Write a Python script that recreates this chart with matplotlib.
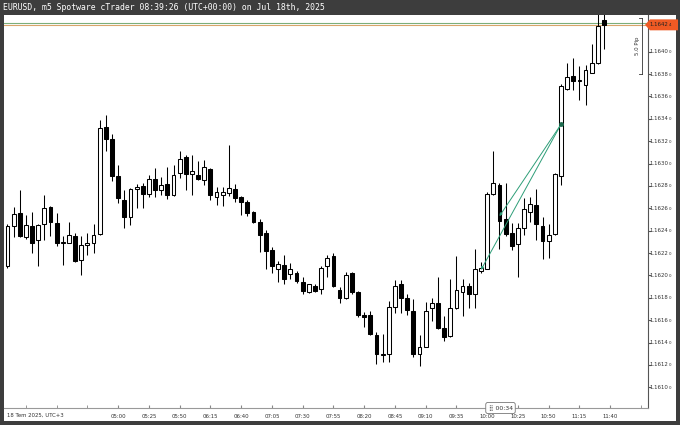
import matplotlib.pyplot as plt
import matplotlib.transforms as mtransforms
from matplotlib.patches import Polygon, Rectangle
import numpy as np

# EURUSD m5 candles, 03:30 .. 11:35 (UTC+3)
opens = [1.16208, 1.16244, 1.16256, 1.16234, 1.16244, 1.16232, 1.16246, 1.16261, 1.16247, 1.16229,
         1.16229, 1.16235, 1.16214, 1.16227, 1.16229, 1.16237, 1.16333, 1.16322, 1.16289, 1.16267,
         1.16252, 1.16277, 1.16280, 1.16273, 1.16286, 1.16276, 1.16282, 1.16272, 1.16292, 1.16306,
         1.16291, 1.16290, 1.16285, 1.16295, 1.16270, 1.16272, 1.16274, 1.16277, 1.16270, 1.16266,
         1.16257, 1.16248, 1.16238, 1.16223, 1.16206, 1.16209, 1.16201, 1.16202, 1.16194, 1.16185,
         1.16191, 1.16188, 1.16208, 1.16217, 1.16187, 1.16180, 1.16202, 1.16185, 1.16165, 1.16165,
         1.16147, 1.16129, 1.16130, 1.16172, 1.16192, 1.16180, 1.16168, 1.16130, 1.16136, 1.16171,
         1.16175, 1.16153, 1.16146, 1.16171, 1.16185, 1.16191, 1.16183, 1.16204, 1.16206, 1.16273,
         1.16281, 1.16250, 1.16238, 1.16228, 1.16242, 1.16257, 1.16263, 1.16244, 1.16231, 1.16237,
         1.16289, 1.16367, 1.16378, 1.16374, 1.16370, 1.16381, 1.16390, 1.16428]
highs = [1.16246, 1.16261, 1.16276, 1.16254, 1.16257, 1.16246, 1.16272, 1.16262, 1.16256, 1.16235,
         1.16248, 1.16238, 1.16235, 1.16238, 1.16246, 1.16339, 1.16343, 1.16326, 1.16299, 1.16276,
         1.16278, 1.16282, 1.16283, 1.16290, 1.16296, 1.16288, 1.16297, 1.16299, 1.16311, 1.16308,
         1.16308, 1.16302, 1.16303, 1.16296, 1.16279, 1.16279, 1.16317, 1.16282, 1.16271, 1.16267,
         1.16258, 1.16250, 1.16241, 1.16225, 1.16213, 1.16218, 1.16211, 1.16204, 1.16199, 1.16192,
         1.16192, 1.16208, 1.16218, 1.16220, 1.16190, 1.16203, 1.16203, 1.16186, 1.16167, 1.16168,
         1.16149, 1.16148, 1.16177, 1.16196, 1.16196, 1.16183, 1.16179, 1.16147, 1.16176, 1.16180,
         1.16199, 1.16164, 1.16197, 1.16217, 1.16197, 1.16193, 1.16224, 1.16212, 1.16275, 1.16311,
         1.16283, 1.16283, 1.16247, 1.16247, 1.16269, 1.16270, 1.16277, 1.16252, 1.16246, 1.16292,
         1.16371, 1.16390, 1.16394, 1.16387, 1.16388, 1.16407, 1.16434, 1.16436]
lows = [1.16207, 1.16234, 1.16234, 1.16233, 1.16220, 1.16208, 1.16232, 1.16235, 1.16226, 1.16209,
        1.16229, 1.16212, 1.16200, 1.16218, 1.16220, 1.16236, 1.16311, 1.16284, 1.16265, 1.16242,
        1.16245, 1.16260, 1.16260, 1.16270, 1.16270, 1.16272, 1.16268, 1.16271, 1.16287, 1.16276,
        1.16272, 1.16285, 1.16281, 1.16267, 1.16263, 1.16262, 1.16271, 1.16266, 1.16254, 1.16253,
        1.16247, 1.16221, 1.16206, 1.16202, 1.16194, 1.16192, 1.16197, 1.16193, 1.16183, 1.16184,
        1.16185, 1.16183, 1.16199, 1.16190, 1.16175, 1.16179, 1.16183, 1.16163, 1.16154, 1.16147,
        1.16121, 1.16123, 1.16123, 1.16166, 1.16166, 1.16165, 1.16127, 1.16119, 1.16136, 1.16159,
        1.16152, 1.16141, 1.16145, 1.16170, 1.16164, 1.16171, 1.16171, 1.16202, 1.16206, 1.16272,
        1.16224, 1.16235, 1.16223, 1.16199, 1.16236, 1.16248, 1.16232, 1.16215, 1.16216, 1.16236,
        1.16281, 1.16366, 1.16366, 1.16357, 1.16352, 1.16381, 1.16389, 1.16402]
closes = [1.16244, 1.16255, 1.16235, 1.16245, 1.16229, 1.16245, 1.16260, 1.16248, 1.16229, 1.16230,
          1.16236, 1.16213, 1.16227, 1.16229, 1.16236, 1.16332, 1.16322, 1.16289, 1.16269, 1.16252,
          1.16277, 1.16279, 1.16273, 1.16286, 1.16276, 1.16281, 1.16272, 1.16290, 1.16304, 1.16291,
          1.16293, 1.16286, 1.16297, 1.16272, 1.16275, 1.16275, 1.16278, 1.16269, 1.16266, 1.16256,
          1.16248, 1.16236, 1.16222, 1.16208, 1.16210, 1.16197, 1.16206, 1.16195, 1.16186, 1.16192,
          1.16186, 1.16207, 1.16216, 1.16191, 1.16180, 1.16200, 1.16185, 1.16165, 1.16163, 1.16148,
          1.16130, 1.16130, 1.16172, 1.16191, 1.16180, 1.16169, 1.16130, 1.16136, 1.16168, 1.16175,
          1.16153, 1.16145, 1.16171, 1.16187, 1.16191, 1.16183, 1.16206, 1.16207, 1.16273, 1.16283,
          1.16249, 1.16237, 1.16226, 1.16242, 1.16259, 1.16264, 1.16246, 1.16231, 1.16236, 1.16291,
          1.16369, 1.16377, 1.16374, 1.16375, 1.16384, 1.16390, 1.16423, 1.16424]

time_ticks = ["05:00", "05:25", "05:50", "06:15", "06:40", "07:05", "07:30", "07:55", "08:20",
              "08:45", "09:10", "09:35", "10:00", "10:25", "10:50", "11:15", "11:40"]
price_ticks = [1.16100, 1.16120, 1.16140, 1.16160, 1.16180, 1.16200, 1.16220, 1.16240, 1.16260,
               1.16280, 1.16300, 1.16320, 1.16340, 1.16360, 1.16380, 1.16400]

# two trades (entry bar, entry price) -> (exit bar, exit price)
trade_entry_bar = [77, 80]
trade_entry_price = [1.16205, 1.16253]
trade_exit_bar = [90, 90]
trade_exit_price = [1.16335, 1.16335]

bid = 1.16424
ask = 1.16426
range_top, range_bottom = 1.16430, 1.16380

W, H = 680, 425
dark = '#3d3d3d'
fig = plt.figure(figsize=(W / 100, H / 100), dpi=100, facecolor=dark)
fig.patches.append(Rectangle((4 / W, 4 / H), 672 / W, 406 / H, transform=fig.transFigure,
                             facecolor='white', edgecolor='none', zorder=-5))

ax = fig.add_axes([4 / W, 17 / H, 644 / W, 393 / H])
ax.set_zorder(2)
ax.set_facecolor('white')

o = np.array(opens)
h = np.array(highs)
l = np.array(lows)
c = np.array(closes)
x = np.arange(len(o))
up = c >= o
body_lo = np.minimum(o, c)
body_h = np.maximum(np.abs(c - o), 0.0000005)

ax.vlines(x, l, h, color='black', linewidth=0.75, zorder=2)
ax.bar(x[up], body_h[up], bottom=body_lo[up], width=0.62, facecolor='white',
       edgecolor='black', linewidth=0.75, zorder=3)
ax.bar(x[~up], body_h[~up], bottom=body_lo[~up], width=0.62, facecolor='black',
       edgecolor='black', linewidth=0.75, zorder=3)

# trade lines
for xb, pb, xe, pe in zip(trade_entry_bar, trade_entry_price, trade_exit_bar, trade_exit_price):
    ax.annotate('', xy=(xb, pb), xytext=(xe, pe),
                arrowprops=dict(arrowstyle='-|>', color='#2e9e78', lw=0.7,
                                mutation_scale=4, shrinkA=0, shrinkB=0), zorder=5)
    ax.plot([xe], [pe], marker='o', ms=2.2, color='#1d6b4f', zorder=6)

ax.axhline(ask, color='#7cae7a', lw=0.8, zorder=1)
ax.axhline(bid, color='#d9a46a', lw=0.8, zorder=1)

ax.set_xlim(-0.56, 104.15)
ax.set_ylim(1.160815, 1.164328)

for s in ['left', 'top']:
    ax.spines[s].set_visible(False)
ax.spines['right'].set_color('#555555')
ax.spines['right'].set_linewidth(0.8)
ax.spines['bottom'].set_color('#999999')
ax.spines['bottom'].set_linewidth(0.8)

# time axis: labelled every 5 bars from 05:00
ax.set_xticks(np.arange(3, 104, 5), minor=True)
ax.set_xticks(np.arange(18, 18 + 5 * len(time_ticks), 5))
ax.set_xticklabels(time_ticks, fontsize=3.9, color='#333333')
ax.tick_params(axis='x', which='both', direction='in', length=2, color='#888888', pad=4.3)

ax.yaxis.tick_right()
ax.set_yticks(price_ticks)
ax.set_yticklabels([])
ax.tick_params(axis='y', direction='out', length=2, color='#555555')

btr = mtransforms.blended_transform_factory(ax.transAxes, ax.transData)
lx = (668.5 - 4) / 644
for p in price_ticks:
    s = f'{p:.5f}'
    ax.text(lx, p, s[:-1], transform=btr, ha='right', va='center', fontsize=3.9, color='#333333')
    ax.text(lx, p - 0.000005, s[-1], transform=btr, ha='left', va='center', fontsize=2.9,
            color='#333333')

# current price label (half height ~5.5 px)
hh = 0.000049
poly = Polygon([((645 - 4) / 644, bid), ((650 - 4) / 644, bid + hh),
                ((678 - 4) / 644, bid + hh), ((678 - 4) / 644, bid - hh),
                ((650 - 4) / 644, bid - hh)], closed=True, transform=btr,
               facecolor='#ef5a24', edgecolor='none', clip_on=False, zorder=8)
ax.add_patch(poly)
s = f'{bid:.5f}'
ax.text(lx, bid, s[:-1], transform=btr, ha='right', va='center', fontsize=3.9, color='#222222',
        zorder=9, clip_on=False)
ax.text(lx, bid - 0.000005, s[-1], transform=btr, ha='left', va='center', fontsize=2.9,
        color='#222222', zorder=9, clip_on=False)

# 5.0 pip range bracket
bx = (642 - 4) / 644
ax.plot([bx, bx], [range_bottom, range_top], transform=btr, color='#333333', lw=0.6, clip_on=False)
for p in (range_bottom, range_top):
    ax.plot([bx - 3 / 644, bx], [p, p], transform=btr, color='#333333', lw=0.6, clip_on=False)
ax.text((637 - 4) / 644, (range_top + range_bottom) / 2, f'{(range_top - range_bottom) * 10000:.1f} Pip',
        transform=btr, rotation=90, ha='center', va='center', fontsize=3.9, color='#333333')

fig.text(3 / W, 1 - 7.5 / H, 'EURUSD, m5 Spotware cTrader 08:39:26 (UTC+00:00) on Jul 18th, 2025',
         color='white', fontsize=5.9, family='DejaVu Sans Mono', va='center', ha='left')
fig.text(7 / W, 1 - 415 / H, '18 Tem 2025, UTC+3', fontsize=3.9, color='#333333', va='center')
fig.text(500.5 / W, 1 - 408 / H, '\u28ff 00:34', fontsize=4.4, color='#333333', ha='center',
         va='center', family=['DejaVu Sans'], zorder=10,
         bbox=dict(boxstyle='round,pad=0.45,rounding_size=0.35', fc='white', ec='#777777', lw=0.6))

fig.savefig('out.png', dpi=100, facecolor=dark)
